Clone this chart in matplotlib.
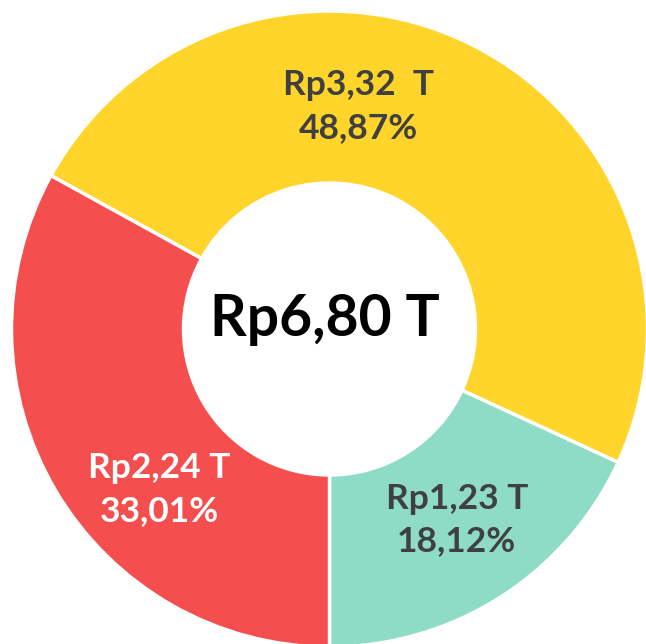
import matplotlib.pyplot as plt

# data
names = ["green", "yellow", "red"]
values = [18.12, 48.87, 33.01]
amounts = ["Rp1,23 T", "Rp3,32  T", "Rp2,24 T"]
pcts = ["18,12%", "48,87%", "33,01%"]
total_label = "Rp6,80 T"

colors = ["#8EDCC5", "#FFD52C", "#F44E4E"]
text_colors = ["#404040", "#404040", "#FFFFFF"]
# label spots (data units, radius 1 = outer edge)
label_xy = [(0.40, -0.60), (0.09, 0.70), (-0.535, -0.505)]

plt.rcParams['font.family'] = ['Lato', 'DejaVu Sans']

fig = plt.figure(figsize=(6.46, 6.44), dpi=100)
ax = fig.add_axes([0, 0, 1, 1])
ax.pie(values, colors=colors, startangle=270, counterclock=True,
       radius=1.0, wedgeprops=dict(width=0.541, edgecolor="white", linewidth=2.5))

for (x, y), a, p, c in zip(label_xy, amounts, pcts, text_colors):
    ax.text(x, y, a + "\n" + p, ha="center", va="center", color=c,
            fontsize=25.5, fontweight="bold", linespacing=1.4)

ax.text(-0.015, 0.03, total_label, ha="center", va="center", color="black",
        fontsize=41, fontweight="bold")

ax.set_xlim(-329.5 / 318, (646 - 329.5) / 318)
ax.set_ylim(-(644 - 329) / 318, 329 / 318)
ax.set_aspect("auto")
ax.axis("off")

fig.savefig("out.png", dpi=100)
